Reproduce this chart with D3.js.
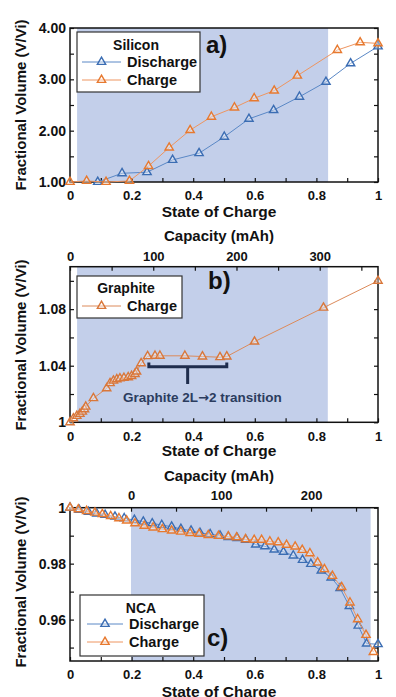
<!DOCTYPE html>
<html><head><meta charset="utf-8">
<script src="https://cdn.jsdelivr.net/npm/d3@7"></script>
<style>
body{margin:0;background:#fff}
text{font-family:"Liberation Sans",Arial,sans-serif;font-weight:bold;fill:#111}
</style>
</head><body>
<svg id="chart" width="396" height="697"></svg>
<script>
// ---------- DATA ----------
const socMajor = [0, 0.2, 0.4, 0.6, 0.8, 1];
const socMajorLabels = ["0", "0.2", "0.4", "0.6", "0.8", "1"];
const socMinor = [0.1, 0.3, 0.5, 0.7, 0.9];

// Panel a: Silicon
const siDischargeSoc = [0.09, 0.169, 0.25, 0.333, 0.419, 0.501, 0.581, 0.661, 0.745, 0.831, 0.911, 1.0];
const siDischargeVol = [1.0, 1.17, 1.19, 1.43, 1.56, 1.88, 2.23, 2.40, 2.66, 2.95, 3.31, 3.64];
const siChargeSoc = [0, 0.054, 0.117, 0.193, 0.255, 0.322, 0.39, 0.459, 0.534, 0.598, 0.663, 0.738, 0.868, 0.942, 1.0];
const siChargeVol = [1.0, 1.02, 1.0, 1.02, 1.31, 1.67, 2.01, 2.27, 2.45, 2.63, 2.78, 3.07, 3.57, 3.72, 3.70];
const aYMajor = [1, 2, 3, 4];
const aYLabels = ["1.00", "2.00", "3.00", "4.00"];
const aYMinor = [1.5, 2.5, 3.5];
const aShade = [0.023, 0.838];

// Panel b: Graphite
const grChargeSoc = [0, 0.011, 0.022, 0.032, 0.04, 0.047, 0.051, 0.076, 0.119, 0.13, 0.141, 0.152, 0.162, 0.175, 0.189, 0.2, 0.211, 0.216, 0.231, 0.252, 0.276, 0.292, 0.373, 0.43, 0.487, 0.509, 0.599, 0.823, 1.0];
const grChargeVol = [1.0, 1.0028, 1.0045, 1.0059, 1.0075, 1.0092, 1.011, 1.017, 1.024, 1.0276, 1.0294, 1.0304, 1.031, 1.0314, 1.0318, 1.0327, 1.0341, 1.0358, 1.0417, 1.0467, 1.047, 1.047, 1.047, 1.0465, 1.046, 1.0465, 1.057, 1.081, 1.10];
const bYMajor = [1, 1.04, 1.08];
const bYLabels = ["1", "1.04", "1.08"];
const bYMinor = [1.02, 1.06, 1.10];
const bCapMajor = [0, 100, 200, 300];
const bCapMinor = [50, 150, 250, 350];
const bShade = [0.023, 0.837];
const bracketSoc = [0.256, 0.382, 0.509];
const bracketVol = [1.0423, 1.0393, 1.027];
const bracketLabelParts = ["Graphite 2L", "\u2192", "2 transition"];

// Panel c: NCA
const ncaDischargeSoc = [0, 0.03, 0.06, 0.087, 0.114, 0.146, 0.176, 0.209, 0.238, 0.267, 0.298, 0.33, 0.36, 0.393, 0.422, 0.455, 0.487, 0.514, 0.543, 0.571, 0.603, 0.633, 0.663, 0.693, 0.725, 0.755, 0.782, 0.816, 0.848, 0.877, 0.907, 0.936, 0.963, 1.0];
const ncaDischargeVol = [1.0, 0.9992, 0.9985, 0.9979, 0.9974, 0.9968, 0.9962, 0.9956, 0.995, 0.9944, 0.9938, 0.9932, 0.9924, 0.9918, 0.991, 0.9905, 0.99, 0.9895, 0.9891, 0.9885, 0.9868, 0.9862, 0.985, 0.9842, 0.9829, 0.9813, 0.9799, 0.9775, 0.975, 0.9712, 0.9648, 0.9578, 0.9514, 0.9512];
const ncaChargeSoc = [0, 0.027, 0.054, 0.081, 0.105, 0.132, 0.159, 0.184, 0.211, 0.241, 0.27, 0.3, 0.33, 0.36, 0.39, 0.419, 0.449, 0.482, 0.514, 0.541, 0.57, 0.598, 0.622, 0.649, 0.676, 0.703, 0.731, 0.754, 0.779, 0.804, 0.826, 0.852, 0.882, 0.909, 0.934, 0.961, 0.985];
const ncaChargeVol = [1.0, 0.9994, 0.9988, 0.9982, 0.9977, 0.997, 0.9962, 0.9954, 0.9944, 0.9935, 0.9929, 0.9923, 0.9918, 0.9914, 0.9909, 0.9906, 0.9902, 0.9899, 0.9897, 0.9894, 0.9887, 0.9885, 0.9885, 0.9879, 0.9876, 0.9867, 0.9861, 0.9849, 0.9837, 0.9804, 0.978, 0.9756, 0.9716, 0.9661, 0.9601, 0.9545, 0.9484];
const cYMajor = [0.96, 0.98, 1];
const cYLabels = ["0.96", "0.98", "1"];
const cYMinor = [0.95, 0.97, 0.99];
const cCapMajor = [0, 100, 200];
const cCapMinor = [50, 150, 250];
const cShade = [0.198, 0.976];

// ---------- STYLE ----------
const BLUE = "#3b6db3", BLUE_LINE = "#5a88c6";
const ORANGE = "#e7792f", ORANGE_LINE = "#ee9560";
const ORANGE_B = "#d9773a";
const SHADE = "#c3cfea";
const NAVY = "#1f2d4d";

const svg = d3.select("#chart");
const L = 70, R = 378;
const x = d3.scaleLinear().domain([0, 1]).range([L, R]);

function zip(a, b) { return a.map((v, i) => [v, b[i]]); }

function panel(o) {
  const g = svg.append("g");
  const y = o.y;
  const top = y.range()[1], bottom = y.range()[0];
  g.append("rect").attr("x", x(o.shade[0])).attr("y", top)
    .attr("width", x(o.shade[1]) - x(o.shade[0])).attr("height", bottom - top)
    .attr("fill", SHADE);

  const labMapX = new Map(socMajor.map((d, i) => [d, socMajorLabels[i]]));
  const bx = g.append("g").attr("transform", `translate(0,${bottom})`)
    .call(d3.axisBottom(x).tickValues(socMajor.concat(socMinor)).tickSizeInner(-4).tickSizeOuter(0)
      .tickPadding(9).tickFormat(d => labMapX.has(d) ? labMapX.get(d) : ""));
  const labMapY = new Map(o.yMajor.map((d, i) => [d, o.yLabels[i]]));
  const ly = g.append("g").attr("transform", `translate(${L},0)`)
    .call(d3.axisLeft(y).tickValues(o.yMajor.concat(o.yMinor)).tickSizeInner(-4).tickSizeOuter(0)
      .tickPadding(4).tickFormat(d => labMapY.has(d) ? labMapY.get(d) : ""));
  const ry = g.append("g").attr("transform", `translate(${R},0)`)
    .call(d3.axisRight(y).tickValues(o.yMajor.concat(o.yMinor)).tickSizeInner(-4).tickSizeOuter(0).tickFormat(""));
  const axes = [bx, ly, ry];
  if (o.cap) {
    const ca = g.append("g").attr("transform", `translate(0,${top})`)
      .call(d3.axisTop(o.cap.scale).tickValues(o.cap.major.concat(o.cap.minor)).tickSizeInner(-4).tickSizeOuter(0)
        .tickPadding(o.cap.pad).tickFormat(d => o.cap.major.includes(d) ? String(d) : ""));
    axes.push(ca);
    g.append("text").attr("x", 219).attr("y", top - o.cap.titleOff).attr("text-anchor", "middle")
      .attr("font-size", 15).text("Capacity (mAh)");
  }
  axes.forEach(a => {
    a.select(".domain").remove();
    a.selectAll(".tick line").attr("stroke", "#111").attr("stroke-width", 1.2);
    a.selectAll(".tick text").attr("fill", "#111").attr("font-size", 13)
      .attr("font-family", "Liberation Sans, Arial, sans-serif").attr("font-weight", "bold");
  });
  ly.selectAll(".tick text").attr("font-size", 14);
  g.append("rect").attr("x", L).attr("y", top).attr("width", R - L).attr("height", bottom - top)
    .attr("fill", "none").attr("stroke", "#111").attr("stroke-width", 1.5);

  g.append("text").attr("x", 219).attr("y", bottom + o.xTitleOff).attr("text-anchor", "middle")
    .attr("font-size", 15.5).text("State of Charge");
  g.append("text").attr("transform", `translate(26,${o.yTitleMid}) rotate(-90)`)
    .attr("text-anchor", "middle").attr("font-size", 15).text("Fractional Volume (V/Vi)");

  const line = d3.line().x(d => x(d[0])).y(d => y(d[1]));
  const sym = d3.symbol().type(d3.symbolTriangle).size(30);
  o.series.forEach(s => {
    const pts = zip(s.soc, s.vol);
    g.append("path").attr("d", line(pts)).attr("fill", "none").attr("stroke", s.line).attr("stroke-width", 1);
    g.selectAll(null).data(pts).enter().append("path")
      .attr("transform", d => `translate(${x(d[0])},${y(d[1])})`)
      .attr("d", sym).attr("fill", "rgba(255,255,255,0.35)").attr("stroke", s.color).attr("stroke-width", 1.4);
  });

  const lg = o.legend;
  g.append("rect").attr("x", lg.x).attr("y", lg.y).attr("width", lg.w).attr("height", lg.h)
    .attr("fill", "#fff").attr("stroke", "#333").attr("stroke-width", 1.2);
  g.append("text").attr("x", lg.titleX).attr("y", lg.titleY).attr("text-anchor", "middle")
    .attr("font-size", 14).text(lg.title);
  lg.items.forEach(it => {
    g.append("line").attr("x1", lg.lx0).attr("x2", lg.lx1).attr("y1", it.ly).attr("y2", it.ly)
      .attr("stroke", it.line).attr("stroke-width", 1);
    g.append("path").attr("transform", `translate(${(lg.lx0 + lg.lx1) / 2},${it.ly})`)
      .attr("d", sym).attr("fill", "rgba(255,255,255,0.35)").attr("stroke", it.color).attr("stroke-width", 1.4);
    g.append("text").attr("x", lg.tx).attr("y", it.ty).attr("font-size", 14.5).text(it.label);
  });
  g.append("text").attr("x", o.letter.x).attr("y", o.letter.y).attr("font-size", 24).text(o.letter.t);
  return g;
}

// Panel a
const ya = d3.scaleLinear().domain([1, 4]).range([182, 28]);
panel({
  y: ya, yMajor: aYMajor, yLabels: aYLabels, yMinor: aYMinor, shade: aShade,
  xTitleOff: 35, yTitleMid: 105,
  series: [
    { soc: siDischargeSoc, vol: siDischargeVol, color: BLUE, line: BLUE_LINE },
    { soc: siChargeSoc, vol: siChargeVol, color: ORANGE, line: ORANGE_LINE }
  ],
  legend: { x: 77, y: 32, w: 123, h: 60, title: "Silicon", titleX: 136, titleY: 50, lx0: 82, lx1: 121, tx: 127,
    items: [{ label: "Discharge", color: BLUE, line: BLUE_LINE, ly: 62, ty: 67 },
            { label: "Charge", color: ORANGE, line: ORANGE_LINE, ly: 80, ty: 85 }] },
  letter: { x: 206, y: 53, t: "a)" }
});

// Panel b
const yb = d3.scaleLinear().domain([1, 1.11]).range([422.3, 266.7]);
const capB = d3.scaleLinear().domain([0, 370]).range([L, R]);
const gb = panel({
  y: yb, yMajor: bYMajor, yLabels: bYLabels, yMinor: bYMinor, shade: bShade,
  cap: { scale: capB, major: bCapMajor, minor: bCapMinor, pad: 6, titleOff: 26 },
  xTitleOff: 34, yTitleMid: 345,
  series: [{ soc: grChargeSoc, vol: grChargeVol, color: ORANGE_B, line: "#dc8a5a" }],
  legend: { x: 77, y: 276, w: 105, h: 42, title: "Graphite", titleX: 126, titleY: 293, lx0: 82, lx1: 121, tx: 127,
    items: [{ label: "Charge", color: ORANGE_B, line: "#dc8a5a", ly: 306, ty: 311 }] },
  letter: { x: 208, y: 289, t: "b)" }
});
gb.append("path")
  .attr("d", `M${x(bracketSoc[0])},${yb(bracketVol[0])} V${yb(bracketVol[1])} H${x(bracketSoc[2])} V${yb(bracketVol[0])}` +
             ` M${x(bracketSoc[1])},${yb(bracketVol[1])} V${yb(bracketVol[2])}`)
  .attr("fill", "none").attr("stroke", NAVY).attr("stroke-width", 3);
const bt = gb.append("text").attr("x", x(0.43)).attr("y", yb(1.0146)).attr("text-anchor", "middle")
  .attr("font-size", 13.5).style("fill", "#2b3c5e");
bt.append("tspan").text(bracketLabelParts[0]);
bt.append("tspan").attr("font-family", "DejaVu Sans").attr("font-size", 13).text(bracketLabelParts[1]);
bt.append("tspan").text(bracketLabelParts[2]);

// Panel c
const yc = d3.scaleLinear().domain([0.9452, 1]).range([661, 507.7]);
const capC = d3.scaleLinear().domain([-67.8, 274.4]).range([L, R]);
panel({
  y: yc, yMajor: cYMajor, yLabels: cYLabels, yMinor: cYMinor, shade: cShade,
  cap: { scale: capC, major: cCapMajor, minor: cCapMinor, pad: 8, titleOff: 27 },
  xTitleOff: 36, yTitleMid: 582,
  series: [
    { soc: ncaDischargeSoc, vol: ncaDischargeVol, color: BLUE, line: BLUE_LINE },
    { soc: ncaChargeSoc, vol: ncaChargeVol, color: ORANGE, line: ORANGE_LINE }
  ],
  legend: { x: 80, y: 595, w: 124, h: 61, title: "NCA", titleX: 141, titleY: 613, lx0: 87, lx1: 123, tx: 129,
    items: [{ label: "Discharge", color: BLUE, line: BLUE_LINE, ly: 624, ty: 629 },
            { label: "Charge", color: ORANGE, line: ORANGE_LINE, ly: 642, ty: 647 }] },
  letter: { x: 207, y: 646, t: "c)" }
});
</script>
</body></html>
